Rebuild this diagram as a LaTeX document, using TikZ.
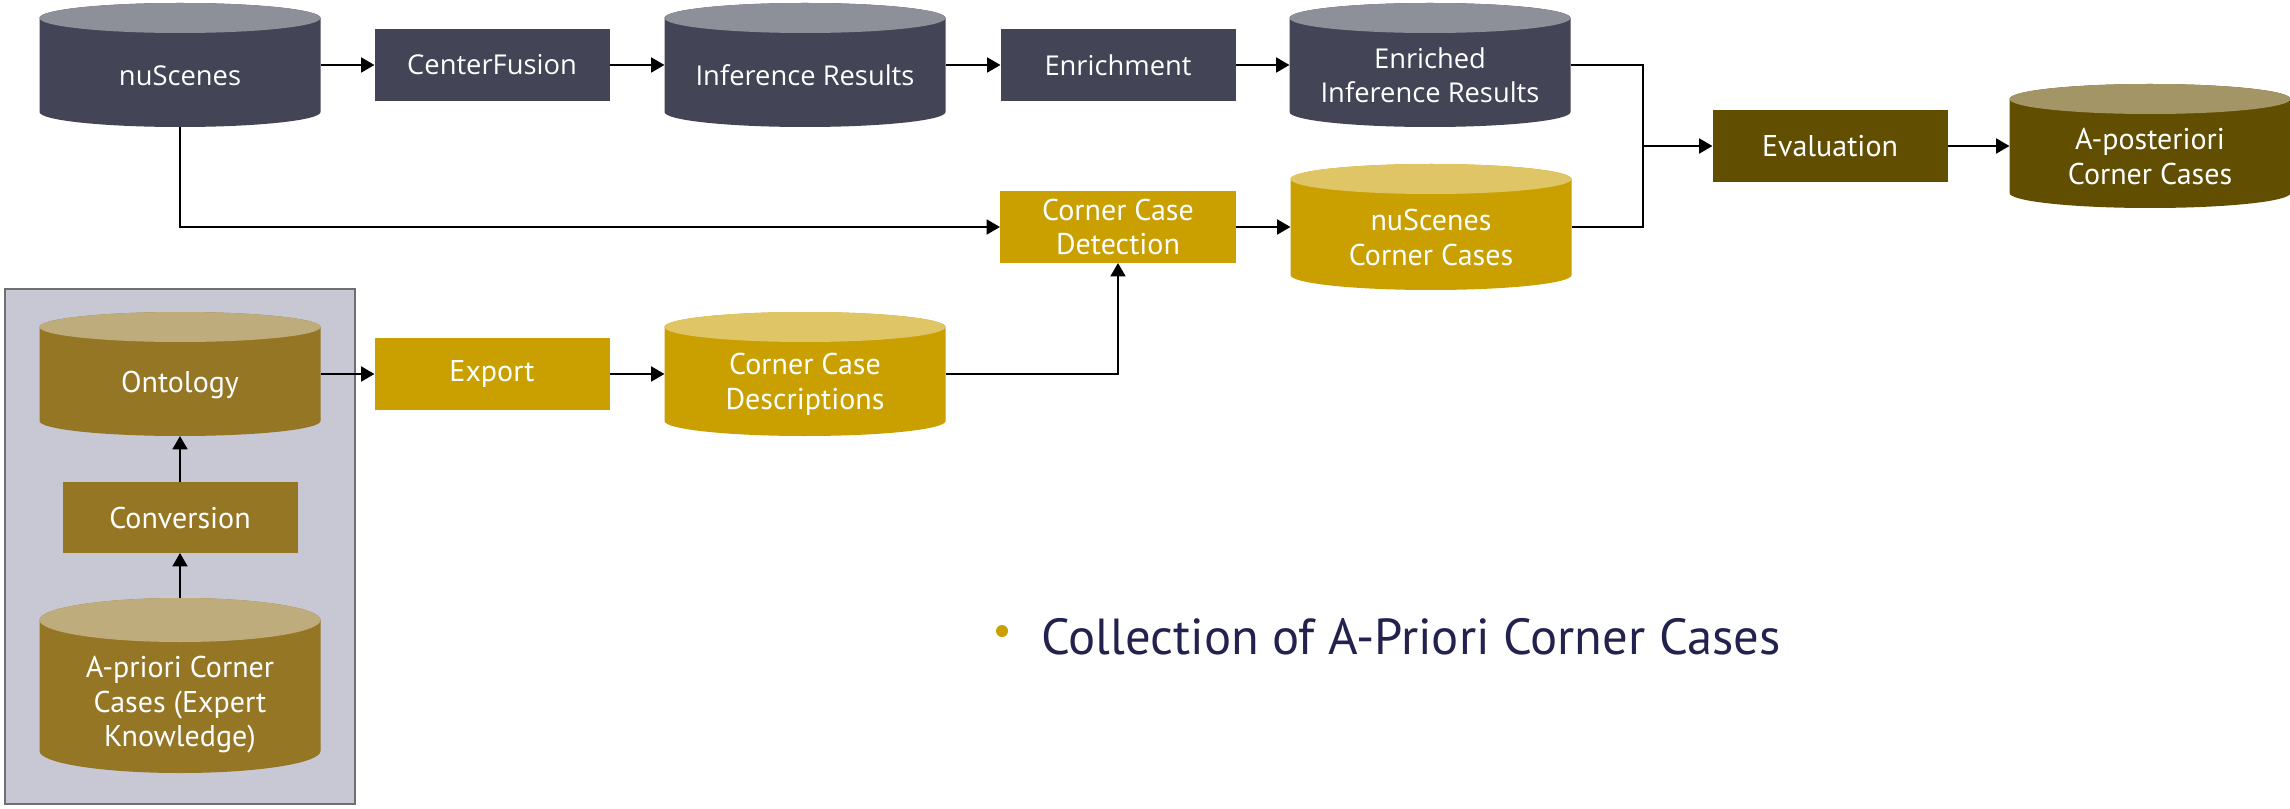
\documentclass[tikz,border=0pt]{standalone}
\usepackage{fontspec}
\setmainfont{PT Sans}
\newfontfamily\widefont{Open Sans}
\usetikzlibrary{arrows.meta}

\definecolor{slatebody}{HTML}{434556}
\definecolor{slatetop}{HTML}{8E9099}
\definecolor{goldbody}{HTML}{C9A000}
\definecolor{goldtop}{HTML}{E0C567}
\definecolor{olivebody}{HTML}{957624}
\definecolor{olivetop}{HTML}{BFAC7C}
\definecolor{brownbody}{HTML}{624E00}
\definecolor{browntop}{HTML}{A39566}
\definecolor{groupfill}{HTML}{C8C8D5}
\definecolor{groupline}{HTML}{6F6F6F}
\definecolor{navy}{HTML}{23224F}

\tikzset{
  shapebox/.style={rectangle, draw=none, inner sep=0pt, outer sep=0pt},
  labeltext/.style={text=white, font=\fontsize{22.5}{26}\selectfont, align=center, inner sep=0pt},
  stepbox/.style={rectangle, draw=none, inner sep=0pt, outer sep=0pt,
    minimum width=235*0.75pt, minimum height=72*0.75pt,
    text=white, font=\fontsize{22.5}{26}\selectfont, align=center},
  slatetext/.style={font=\widefont\fontsize{20.5}{25.5}\selectfont},
  plaintext/.style={},
  lowered/.style={yshift=-4pt},
  wire/.style={line width=2pt, draw=black},
  conn/.style={wire, -{Triangle[length=10pt,width=11pt]}},
}

% database cylinder: name, cx, cy, width, height, end radius, palette, text style, text
\newcommand\dbcyl[9]{%
  \fill[#7body] ({#2-#4/2},{#3+#5/2-#6}) -- ({#2-#4/2},{#3-#5/2+#6})
    arc[start angle=180,end angle=360,x radius={#4/2},y radius=#6]
    -- ({#2+#4/2},{#3+#5/2-#6})
    arc[start angle=0,end angle=180,x radius={#4/2},y radius=#6] -- cycle;
  \fill[#7top] (#2,{#3+#5/2-#6}) ellipse[x radius={#4/2},y radius=#6];
  \node[shapebox, minimum width={#4*0.75pt}, minimum height={#5*0.75pt}] (#1) at (#2,#3) {};
  \node[labeltext, #8] at (#2,{#3-#6/2-3}) {#9};
}

\begin{document}
\begin{tikzpicture}[x=0.75pt,y=0.75pt]
\useasboundingbox (0,0) rectangle (2290,808);

% knowledge group frame
\filldraw[fill=groupfill, draw=groupline, line width=2.2pt] (5,4) rectangle (355,519);

% top row
\dbcyl{nuscenes}{180}{743}{281}{124}{15}{slate}{slatetext}{nuScenes}
\node[stepbox, slatetext, fill=slatebody] (centerfusion) at (492,743) {CenterFusion};
\dbcyl{inference}{805}{743}{281}{124}{15}{slate}{slatetext}{Inference Results}
\node[stepbox, slatetext, fill=slatebody] (enrichment) at (1118,743) {Enrichment};
\dbcyl{enriched}{1430}{743}{281}{124}{15}{slate}{slatetext}{Enriched\\Inference Results}

% detection row
\node[stepbox, fill=goldbody, minimum width=236*0.75pt] (ccd) at (1118,581) {Corner Case\\Detection};
\dbcyl{ncc}{1431}{581}{281}{126}{15}{gold}{plaintext}{nuScenes\\Corner Cases}

% evaluation
\node[stepbox, fill=brownbody] (eval) at (1830,662) {Evaluation};
\dbcyl{apost}{2150}{662}{281}{124}{15}{brown}{plaintext}{A-posteriori\\Corner Cases}

% ontology row
\dbcyl{ontology}{180}{434}{281}{124}{15}{olive}{plaintext}{Ontology}
\node[stepbox, fill=goldbody] (export) at (492,434) {Export};
\dbcyl{ccdesc}{805}{434}{281}{124}{15}{gold}{plaintext}{Corner Case\\Descriptions}

\node[stepbox, fill=olivebody, minimum height=71*0.75pt] (conversion) at (180,290.5) {Conversion};
\dbcyl{apriori}{180}{122.5}{281}{175}{22}{olive}{lowered}{A-priori Corner\\Cases (Expert\\Knowledge)}

% connectors
\draw[conn] (nuscenes.east) -- (centerfusion.west);
\draw[conn] (centerfusion.east) -- (inference.west);
\draw[conn] (inference.east) -- (enrichment.west);
\draw[conn] (enrichment.east) -- (enriched.west);
\coordinate (jn) at (1643,662);
\draw[wire] (enriched.east) -| (jn);
\draw[wire] (ncc.east) -| (jn);
\draw[conn] (jn) -- (eval.west);
\draw[conn] (eval.east) -- (apost.west);
\draw[conn] (nuscenes.south) |- (ccd.west);
\draw[conn] (ccd.east) -- (ncc.west);
\draw[conn] (ontology.east) -- (export.west);
\draw[conn] (export.east) -- (ccdesc.west);
\draw[conn] (ccdesc.east) -| (ccd.south);
\draw[conn] (conversion.north) -- (ontology.south);
\draw[conn] (apriori.north) -- (conversion.south);

% caption bullet
\fill[goldbody] (1002,177) circle[radius=6];
\node[anchor=base west, inner sep=0pt, text=navy, font=\fontsize{38}{45}\selectfont] (note) at (1041,154) {Collection of A-Priori Corner Cases};
\end{tikzpicture}
\end{document}
